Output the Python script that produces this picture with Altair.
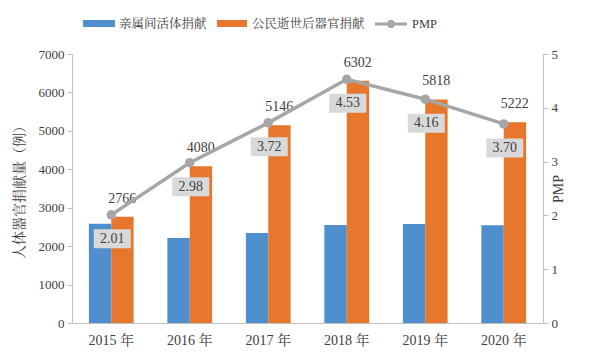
import altair as alt
import pandas as pd

years = ["2015 年", "2016 年", "2017 年", "2018 年", "2019 年", "2020 年"]
living = [2580, 2215, 2345, 2550, 2575, 2545]
deceased = [2766, 4080, 5146, 6302, 5818, 5222]
pmp = [2.01, 2.98, 3.72, 4.53, 4.16, 3.70]
series = ["亲属间活体捐献", "公民逝世后器官捐献"]

BLUE = "#4f8fcd"
ORANGE = "#e8772e"
GRAY = "#a6a6a6"
BOX = "#d9d9d9"
TXT = "#404040"
AX = "#bfbfbf"
FONT = "Liberation Serif, Noto Serif CJK SC, Noto Sans CJK SC"

bars = pd.DataFrame({
    "year": years * 2,
    "series": [series[0]] * 6 + [series[1]] * 6,
    "value": living + deceased,
})
df = pd.DataFrame({"year": years, "value": deceased, "pmp": pmp,
                   "pmp_label": [f"{v:.2f}" for v in pmp]})

xscale = alt.Scale(paddingInner=0.43, paddingOuter=0.215)
xaxis = alt.Axis(title=None, labelAngle=0, ticks=False, domainColor=AX,
                 labelFont=FONT, labelFontSize=14, labelColor=TXT, labelPadding=10)
X = alt.X("year:N", sort=years, scale=xscale, axis=xaxis)

laxis = alt.Axis(title="人体器官捐献量（例）", values=list(range(0, 7001, 1000)), format="d",
                 grid=False, domainColor=AX, tickColor=AX, tickSize=5,
                 labelFont=FONT, labelFontSize=13, labelColor=TXT, labelPadding=3,
                 titleFont=FONT, titleFontSize=14, titleColor=TXT,
                 titleFontWeight="normal", titlePadding=12)
YL = alt.Y("value:Q", scale=alt.Scale(domain=[0, 7000]), axis=laxis)

bar_layer = alt.Chart(bars).mark_bar().encode(
    x=X,
    xOffset=alt.XOffset("series:N", sort=series),
    y=YL,
    color=alt.Color("series:N", sort=series,
                    scale=alt.Scale(domain=series, range=[BLUE, ORANGE]), legend=None),
)
orange_text = alt.Chart(df).mark_text(
    font=FONT, fontSize=14, color=TXT, baseline="bottom", dy=-11, dx=11
).encode(x=X, y=YL, text=alt.Text("value:Q", format="d"))

left = alt.layer(bar_layer, orange_text)

raxis = alt.Axis(title="PMP", orient="right", values=[0, 1, 2, 3, 4, 5],
                 grid=False, domainColor=AX, tickColor=AX, tickSize=5,
                 labelFont=FONT, labelFontSize=13, labelColor=TXT, labelPadding=3,
                 titleFont=FONT, titleFontSize=14, titleColor=TXT,
                 titleFontWeight="normal", titleAngle=270, titlePadding=8)
YR = alt.Y("pmp:Q", scale=alt.Scale(domain=[0, 5]), axis=raxis)

line = alt.Chart(df).mark_line(color=GRAY, strokeWidth=3.5).encode(x=X, y=YR)
pts = alt.Chart(df).mark_circle(color=GRAY, size=90, opacity=1).encode(x=X, y=YR)
boxes = alt.Chart(df).mark_tick(orient="horizontal", size=37, thickness=19, color=BOX,
                                opacity=1, yOffset=24, xOffset=1).encode(x=X, y=YR)
ptext = alt.Chart(df).mark_text(font=FONT, fontSize=14, color=TXT, dy=24, dx=1).encode(
    x=X, y=YR, text="pmp_label:N")

right = alt.layer(line, pts, boxes, ptext)

# manual legend (positions in pixels relative to plot origin)
one = pd.DataFrame({"a": [0]})
def lrect(x0, x1, c):
    return alt.Chart(one).mark_rect(color=c).encode(
        x=alt.value(x0), x2=alt.value(x1), y=alt.value(-34), y2=alt.value(-27))
def ltext(x, t):
    return alt.Chart(pd.DataFrame({"t": [t]})).mark_text(
        font=FONT, fontSize=12.5, color=TXT, align="left", baseline="middle").encode(
        x=alt.value(x), y=alt.value(-30), text="t:N")

legend = alt.layer(
    lrect(11, 43, BLUE), ltext(47, series[0]),
    lrect(145, 175, ORANGE), ltext(180, series[1]),
    alt.Chart(one).mark_rule(color=GRAY, strokeWidth=3).encode(
        x=alt.value(303), x2=alt.value(335), y=alt.value(-30)),
    alt.Chart(one).mark_circle(color=GRAY, size=70, opacity=1).encode(
        x=alt.value(319), y=alt.value(-30)),
    ltext(340, "PMP"),
)

chart = alt.layer(left, right, legend).resolve_scale(y="independent").properties(
    width=471, height=269,
    autosize=alt.AutoSizeParams(type="none"),
    padding={"left": 64, "top": 46, "right": 39, "bottom": 30},
).configure(background="white", view=alt.ViewConfig(stroke=None))

chart.save("out.html", embed_options={"renderer": "svg", "actions": False})
